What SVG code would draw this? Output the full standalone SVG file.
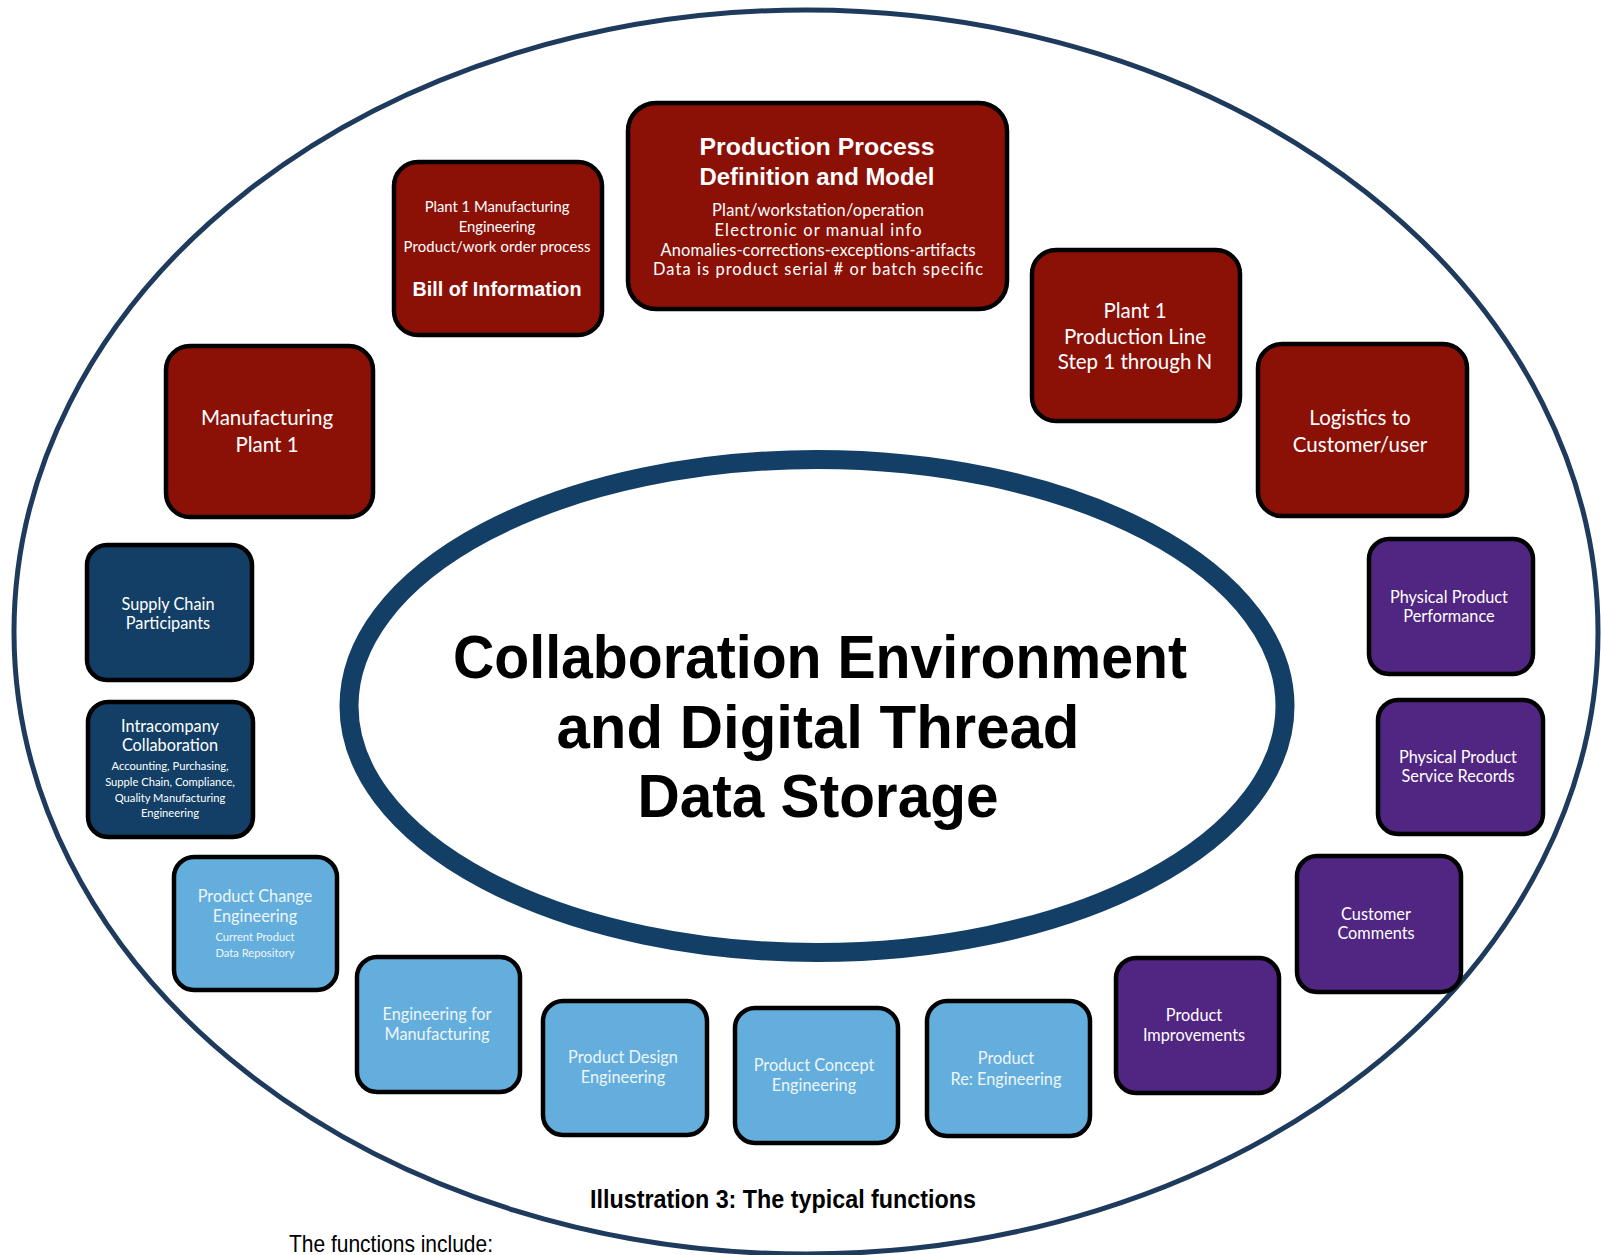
<svg xmlns="http://www.w3.org/2000/svg" width="1601" height="1255" viewBox="0 0 1601 1255">
<style>
.box{stroke:#000;stroke-width:4.5}
.red{fill:#8B1107}
.navy{fill:#133F66}
.lb{fill:#63AEDC}
.pur{fill:#512582}
.t{font-family:Lato,"Liberation Sans",sans-serif;fill:#fff;text-anchor:middle}
.b{font-family:"Liberation Sans",Arial,sans-serif;font-weight:bold;text-anchor:middle}
.lt{fill:#EEF6FC}
</style>
<rect width="1601" height="1255" fill="#fff"/>
<g id="frame">
<ellipse cx="806" cy="632" rx="792" ry="622" fill="none" stroke="#1E3A5C" stroke-width="5"/>
</g>
<g id="core">
<ellipse cx="817" cy="706" rx="468" ry="246.5" fill="#fff" stroke="#133F66" stroke-width="19"/>
<text class="b" font-size="62" x="820" y="678" textLength="734" lengthAdjust="spacingAndGlyphs">Collaboration Environment</text>
<text class="b" font-size="62" x="818" y="748" textLength="523" lengthAdjust="spacingAndGlyphs">and Digital Thread</text>
<text class="b" font-size="62" x="818" y="817" textLength="361" lengthAdjust="spacingAndGlyphs">Data Storage</text>
</g>
<g id="connectors"/>
<g id="n-ppd">
<rect class="box red" x="628" y="103" width="379" height="206" rx="28"/>
<text class="b" font-size="24" fill="#fff" x="817" y="155" textLength="235" lengthAdjust="spacingAndGlyphs">Production Process</text>
<text class="b" font-size="24" fill="#fff" x="817" y="185" textLength="235" lengthAdjust="spacingAndGlyphs">Definition and Model</text>
<text class="t" font-size="16.4" x="818" y="216" textLength="212" lengthAdjust="spacing">Plant/workstation/operation</text>
<text class="t" font-size="16.4" x="818" y="236" textLength="207" lengthAdjust="spacing">Electronic or manual info</text>
<text class="t" font-size="16.4" x="818" y="256" textLength="315" lengthAdjust="spacing">Anomalies-corrections-exceptions-artifacts</text>
<text class="t" font-size="16.4" x="818" y="275" textLength="330" lengthAdjust="spacing">Data is product serial # or batch specific</text>
</g>
<g id="n-bill">
<rect class="box red" x="394" y="162" width="208" height="173" rx="24"/>
<text class="t" font-size="14.8" x="497" y="212">Plant 1 Manufacturing</text>
<text class="t" font-size="14.8" x="497" y="232">Engineering</text>
<text class="t" font-size="14.8" x="497" y="252" textLength="187" lengthAdjust="spacing">Product/work order process</text>
<text class="b" font-size="20" fill="#fff" x="497" y="296" textLength="169" lengthAdjust="spacingAndGlyphs">Bill of Information</text>
</g>
<g id="n-line">
<rect class="box red" x="1032" y="250" width="208" height="171" rx="24"/>
<text class="t" font-size="20.5" x="1135" y="318">Plant 1</text>
<text class="t" font-size="20.5" x="1135" y="344">Production Line</text>
<text class="t" font-size="20.5" x="1135" y="369">Step 1 through N</text>
</g>
<g id="n-logistics">
<rect class="box red" x="1258" y="344" width="209" height="172" rx="24"/>
<text class="t" font-size="20.5" x="1360" y="425">Logistics to</text>
<text class="t" font-size="20.5" x="1360" y="452">Customer/user</text>
</g>
<g id="n-mfg">
<rect class="box red" x="166" y="346" width="207" height="171" rx="24"/>
<text class="t" font-size="20.5" x="267" y="425">Manufacturing</text>
<text class="t" font-size="20.5" x="267" y="452">Plant 1</text>
</g>
<g id="n-supply">
<rect class="box navy" x="87" y="545" width="165" height="135" rx="20"/>
<text class="t" font-size="16.3" x="168" y="610">Supply Chain</text>
<text class="t" font-size="16.3" x="168" y="629">Participants</text>
</g>
<g id="n-intra">
<rect class="box navy" x="88" y="702" width="165" height="135" rx="20"/>
<text class="t" font-size="16.3" x="170" y="732">Intracompany</text>
<text class="t" font-size="16.3" x="170" y="751">Collaboration</text>
<text class="t" font-size="11.2" x="170" y="770">Accounting, Purchasing,</text>
<text class="t" font-size="11.2" x="170" y="786">Supple Chain, Compliance,</text>
<text class="t" font-size="11.2" x="170" y="802">Quality Manufacturing</text>
<text class="t" font-size="11.2" x="170" y="817">Engineering</text>
</g>
<g id="n-change">
<rect class="box lb" x="174" y="857" width="163" height="133" rx="20"/>
<text class="t lt" font-size="16.3" x="255" y="902">Product Change</text>
<text class="t lt" font-size="16.3" x="255" y="922">Engineering</text>
<text class="t lt" font-size="11.2" x="255" y="941">Current Product</text>
<text class="t lt" font-size="11.2" x="255" y="957">Data Repository</text>
</g>
<g id="n-efm">
<rect class="box lb" x="357" y="957" width="163" height="135" rx="20"/>
<text class="t lt" font-size="16.3" x="437" y="1020">Engineering for</text>
<text class="t lt" font-size="16.3" x="437" y="1040">Manufacturing</text>
</g>
<g id="n-design">
<rect class="box lb" x="543" y="1001" width="164" height="134" rx="20"/>
<text class="t lt" font-size="16.3" x="623" y="1063">Product Design</text>
<text class="t lt" font-size="16.3" x="623" y="1083">Engineering</text>
</g>
<g id="n-concept">
<rect class="box lb" x="735" y="1008" width="163" height="135" rx="20"/>
<text class="t lt" font-size="16.3" x="814" y="1071">Product Concept</text>
<text class="t lt" font-size="16.3" x="814" y="1091">Engineering</text>
</g>
<g id="n-reeng">
<rect class="box lb" x="927" y="1001" width="163" height="135" rx="20"/>
<text class="t lt" font-size="16.3" x="1006" y="1064">Product</text>
<text class="t lt" font-size="16.3" x="1006" y="1085">Re: Engineering</text>
</g>
<g id="n-improve">
<rect class="box pur" x="1116" y="958" width="163" height="135" rx="20"/>
<text class="t" font-size="16.3" x="1194" y="1021">Product</text>
<text class="t" font-size="16.3" x="1194" y="1041">Improvements</text>
</g>
<g id="n-comments">
<rect class="box pur" x="1297" y="856" width="164" height="136" rx="20"/>
<text class="t" font-size="16.3" x="1376" y="920">Customer</text>
<text class="t" font-size="16.3" x="1376" y="939">Comments</text>
</g>
<g id="n-service">
<rect class="box pur" x="1378" y="700" width="165" height="134" rx="20"/>
<text class="t" font-size="16.3" x="1458" y="763">Physical Product</text>
<text class="t" font-size="16.3" x="1458" y="782">Service Records</text>
</g>
<g id="n-perf">
<rect class="box pur" x="1369" y="539" width="164" height="135" rx="20"/>
<text class="t" font-size="16.3" x="1449" y="603">Physical Product</text>
<text class="t" font-size="16.3" x="1449" y="622">Performance</text>
</g>
<g id="captions">
<text class="b" font-size="25" fill="#000" x="783" y="1208" textLength="386" lengthAdjust="spacingAndGlyphs">Illustration 3: The typical functions</text>
<text font-family="'Liberation Sans',Arial,sans-serif" font-size="24" fill="#000" x="289" y="1252" textLength="204" lengthAdjust="spacingAndGlyphs">The functions include:</text>
</g>
</svg>
